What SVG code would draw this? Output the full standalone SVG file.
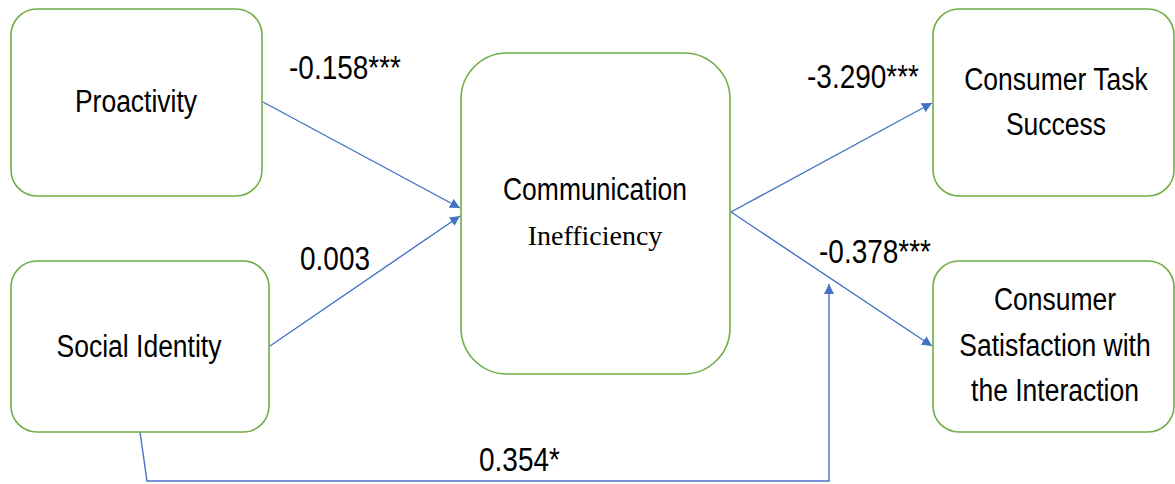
<svg xmlns="http://www.w3.org/2000/svg" width="1175" height="484" viewBox="0 0 1175 484">
<style>
.box{fill:#fff;stroke:#70AD47;stroke-width:1.6}
.t{font-family:"Liberation Sans",Arial,sans-serif;font-size:26.5px;fill:#000;text-anchor:middle}
.s{font-family:"Liberation Serif","Times New Roman",serif;font-size:28px;fill:#000;text-anchor:middle}
.lbl{font-family:"Liberation Sans",Arial,sans-serif;font-size:28px;fill:#000}
.c{fill:none;stroke:#4472C4;stroke-width:1.4}
</style>
<defs>
<marker id="ah" viewBox="0 0 10 10" refX="10" refY="5" markerWidth="10" markerHeight="10" markerUnits="userSpaceOnUse" orient="auto">
<path d="M0,0 L10,5 L0,10 Z" fill="#4472C4"/>
</marker>
</defs>
<rect width="1175" height="484" fill="#fff"/>
<g id="connectors">
<line class="c" x1="263" y1="102" x2="460" y2="208" marker-end="url(#ah)"/>
<line class="c" x1="270" y1="346" x2="460" y2="216" marker-end="url(#ah)"/>
<line class="c" x1="731" y1="212" x2="932" y2="103" marker-end="url(#ah)"/>
<line class="c" x1="731" y1="212" x2="932" y2="346" marker-end="url(#ah)"/>
<polyline class="c" points="140,432 147,481 829,481 829,284" marker-end="url(#ah)"/>
<text class="lbl" transform="translate(289,79) scale(1,1.2)">-0.158***</text>
<text class="lbl" transform="translate(300,270) scale(1,1.2)">0.003</text>
<text class="lbl" transform="translate(807,88) scale(1,1.2)">-3.290***</text>
<text class="lbl" transform="translate(819,263) scale(1,1.2)">-0.378***</text>
<text class="lbl" transform="translate(479,471) scale(1,1.2)">0.354*</text>
</g>
<g id="proactivity">
<rect class="box" x="11" y="9" width="251" height="187" rx="26"/>
<text class="t" transform="translate(136,112) scale(1,1.18)">Proactivity</text>
</g>
<g id="social-identity">
<rect class="box" x="11" y="261" width="258" height="171" rx="26"/>
<text class="t" transform="translate(139,357) scale(1,1.18)">Social Identity</text>
</g>
<g id="communication-inefficiency">
<rect class="box" x="461" y="53" width="269" height="321" rx="46"/>
<text class="t" transform="translate(595,200) scale(1,1.18)">Communication</text>
<text class="s" x="595" y="245">Inefficiency</text>
</g>
<g id="task-success">
<rect class="box" x="933" y="9" width="241" height="187" rx="26"/>
<text class="t" transform="translate(1056,90) scale(1,1.18)">Consumer Task</text>
<text class="t" transform="translate(1056,135) scale(1,1.18)">Success</text>
</g>
<g id="satisfaction">
<rect class="box" x="933" y="261" width="241" height="171" rx="26"/>
<text class="t" transform="translate(1055,310) scale(1,1.18)">Consumer</text>
<text class="t" transform="translate(1055,356) scale(1,1.18)">Satisfaction with</text>
<text class="t" transform="translate(1055,401) scale(1,1.18)">the Interaction</text>
</g>
</svg>
